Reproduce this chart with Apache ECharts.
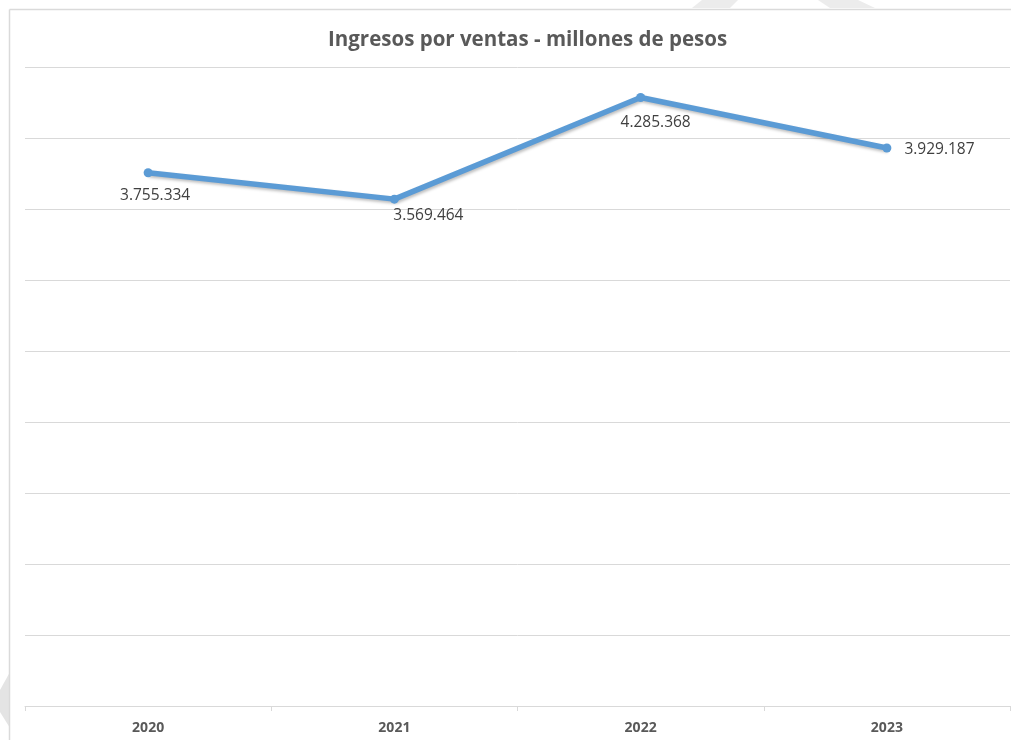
<!DOCTYPE html>
<html>
<head>
<meta charset="utf-8">
<script src="https://cdn.jsdelivr.net/npm/echarts@6/dist/echarts.min.js"></script>
<style>
  html, body { margin: 0; padding: 0; background: #ffffff; }
  #chart { width: 1011px; height: 740px; }
</style>
</head>
<body>
<div id="chart"></div>
<script>
// Annual sales revenue, millions of pesos
const years = ['2020', '2021', '2022', '2023'];
const revenue = [3755334, 3569464, 4285368, 3929187];
const labelText = ['3.755.334', '3.569.464', '4.285.368', '3.929.187'];

const yMin = 0;
const yMax = 4500000;
const yStep = 500000;

// per-point label placement
const labelPlacement = [
  { position: 'bottom', offset: [7, 6] },
  { position: 'bottom', offset: [34, 0] },
  { position: 'bottom', offset: [15, 9] },
  { position: 'right', offset: [9, 2] }
];

const chart = echarts.init(document.getElementById('chart'), null, { renderer: 'canvas' });

const seriesData = revenue.map((v, i) => ({
  value: v,
  label: {
    position: labelPlacement[i].position,
    offset: labelPlacement[i].offset,
    formatter: labelText[i]
  }
}));

chart.setOption({
  animation: false,
  backgroundColor: '#ffffff',
  title: {
    text: 'Ingresos por ventas - millones de pesos',
    left: 323,
    top: 25,
    textStyle: {
      fontFamily: 'Open Sans, Liberation Sans, sans-serif',
      fontSize: 20.5,
      fontWeight: 'bold',
      color: '#595959'
    }
  },
  graphic: [
    // outer frame lines
    { type: 'line', shape: { x1: 9.5, y1: 9.5, x2: 1011, y2: 9.5 }, style: { stroke: '#dadada', lineWidth: 1.5 }, silent: true },
    { type: 'line', shape: { x1: 9.5, y1: 9.5, x2: 9.5, y2: 740 }, style: { stroke: '#dadada', lineWidth: 1.5 }, silent: true },
    // faint background shapes
    { type: 'polygon', shape: { points: [[10, 672], [0, 690], [0, 712], [10, 728]] }, style: { fill: '#e4e4e4' }, silent: true, z: -1 },
    { type: 'polygon', shape: { points: [[692, 8], [702, 0], [738, 0], [730, 8]] }, style: { fill: '#ececec' }, silent: true, z: -1 },
    { type: 'polygon', shape: { points: [[818, 0], [858, 0], [875, 8], [830, 8]] }, style: { fill: '#ececec' }, silent: true, z: -1 }
  ],
  grid: {
    left: 25,
    right: 1,
    top: 67,
    bottom: 34,
    containLabel: false
  },
  xAxis: {
    type: 'category',
    data: years,
    boundaryGap: true,
    axisLine: { show: true, lineStyle: { color: '#d9d9d9', width: 1 } },
    axisTick: { show: true, alignWithLabel: false, length: 5, lineStyle: { color: '#d9d9d9' } },
    axisLabel: {
      margin: 15,
      fontFamily: 'Open Sans, Liberation Sans, sans-serif',
      fontSize: 14,
      fontWeight: 'bold',
      color: '#595959'
    },
    splitLine: { show: false }
  },
  yAxis: {
    type: 'value',
    min: yMin,
    max: yMax,
    interval: yStep,
    axisLine: { show: false },
    axisTick: { show: false },
    axisLabel: { show: false },
    splitLine: { show: true, lineStyle: { color: '#d9d9d9', width: 1 } }
  },
  series: [{
    type: 'line',
    data: seriesData,
    symbol: 'circle',
    symbolSize: 9,
    lineStyle: {
      color: '#5b9bd5',
      width: 5.5,
      shadowColor: 'rgba(0,0,0,0.25)',
      shadowBlur: 3,
      shadowOffsetX: 1,
      shadowOffsetY: 2
    },
    itemStyle: { color: '#5b9bd5' },
    label: {
      show: true,
      distance: 4,
      fontFamily: 'Open Sans, Liberation Sans, sans-serif',
      fontSize: 15.5,
      color: '#404040'
    }
  }]
});
</script>
</body>
</html>
